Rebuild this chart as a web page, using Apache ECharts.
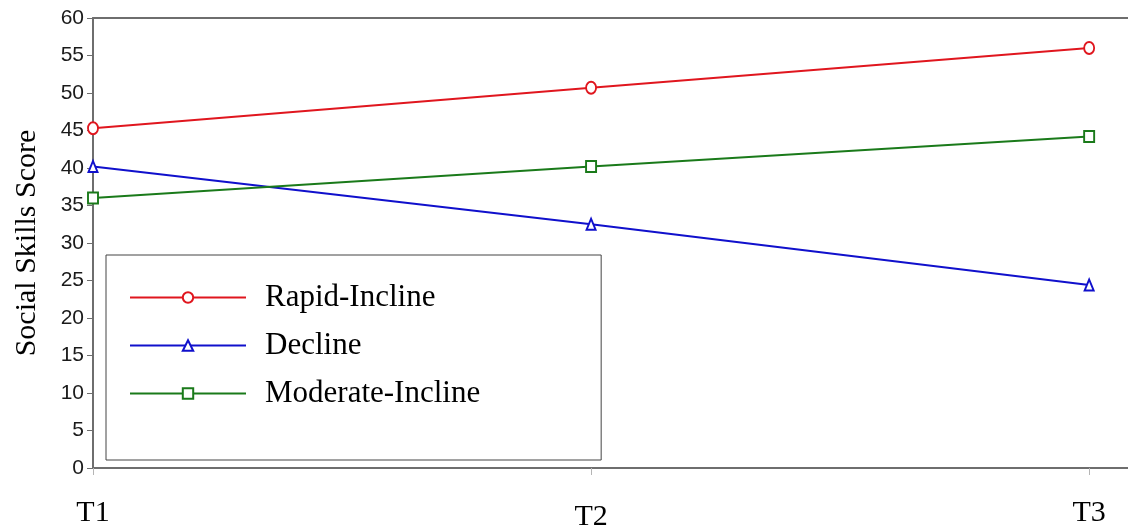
<!DOCTYPE html>
<html>
<head>
<meta charset="utf-8">
<script src="https://cdn.jsdelivr.net/npm/echarts@6/dist/echarts.min.js"></script>
<style>
html,body{margin:0;padding:0;background:#fff;}
#chart{width:1128px;height:530px;}
</style>
</head>
<body>
<div id="chart"></div>
<script>
// Data
var categories = ['T1', 'T2', 'T3'];
var rapidIncline = [45.3, 50.7, 56.0];
var decline = [40.2, 32.5, 24.4];
var moderateIncline = [36.0, 40.2, 44.2];
var yTicks = [0, 5, 10, 15, 20, 25, 30, 35, 40, 45, 50, 55, 60];
var seriesNames = ['Rapid-Incline', 'Decline', 'Moderate-Incline'];
var yTitle = 'Social Skills Score';

var positions = categories.map(function (c, i) { return i + 1; });
function pairs(arr) { return arr.map(function (v, i) { return [positions[i], v]; }); }

var serif = "'Liberation Serif', 'Times New Roman', serif";
var sans = "'Liberation Sans', Arial, sans-serif";
var axisGray = '#6e6e6e';

var chart = echarts.init(document.getElementById('chart'), null, {renderer: 'canvas'});
chart.setOption({
  animation: false,
  backgroundColor: '#fff',
  grid: {left: 93, right: 0, top: 18, bottom: 62, containLabel: false, outerBoundsMode: 'none'},
  legend: {
    orient: 'vertical',
    left: 106,
    top: 255,
    padding: [27, 121, 51, 23],
    itemGap: 17,
    itemWidth: 116,
    itemHeight: 13,
    borderColor: '#444',
    borderWidth: 1,
    borderRadius: 0,
    textStyle: {fontFamily: serif, fontSize: 31, color: '#000', padding: [0, 0, 0, 14]},
    data: seriesNames
  },
  xAxis: [{
    type: 'value',
    min: 1,
    max: 3.078,
    interval: 1,
    position: 'bottom',
    axisLine: {show: true, lineStyle: {color: axisGray, width: 2}},
    axisTick: {show: true, customValues: positions, length: 7, lineStyle: {color: '#b5b5b5', width: 1}},
    splitLine: {show: false},
    axisLabel: {
      customValues: positions,
      margin: 30,
      formatter: function (v) {
        var i = Math.round(v) - 1;
        return i === 1 ? '{low|' + categories[i] + '}' : '{n|' + categories[i] + '}';
      },
      rich: {
        n: {fontFamily: serif, fontSize: 30, color: '#000'},
        low: {fontFamily: serif, fontSize: 30, color: '#000', padding: [4, 0, 0, 0]}
      }
    }
  }, {
    type: 'value',
    min: 1,
    max: 3.078,
    position: 'top',
    axisLine: {show: true, lineStyle: {color: axisGray, width: 2}},
    axisTick: {show: false},
    axisLabel: {show: false},
    splitLine: {show: false}
  }],
  yAxis: {
    type: 'value',
    min: yTicks[0],
    max: yTicks[yTicks.length - 1],
    interval: 5,
    name: yTitle,
    nameLocation: 'middle',
    nameGap: 51,
    nameTextStyle: {fontFamily: serif, fontSize: 30, color: '#000'},
    axisLine: {show: true, lineStyle: {color: axisGray, width: 2}},
    axisTick: {show: true, length: 6, lineStyle: {color: axisGray, width: 1}},
    splitLine: {show: false},
    axisLabel: {fontFamily: sans, fontSize: 21, color: '#1a1a1a', margin: 9}
  },
  series: [{
    name: seriesNames[0],
    type: 'line',
    data: pairs(rapidIncline),
    symbol: 'emptyCircle',
    symbolSize: [10, 12],
    clip: false,
    itemStyle: {color: '#e0161e', borderWidth: 1.6},
    lineStyle: {color: '#e0161e', width: 2.2}
  }, {
    name: seriesNames[1],
    type: 'line',
    data: pairs(decline),
    symbol: 'emptyTriangle',
    symbolSize: [9, 11],
    clip: false,
    itemStyle: {color: '#1010cc', borderWidth: 1.6},
    lineStyle: {color: '#1010cc', width: 2.2}
  }, {
    name: seriesNames[2],
    type: 'line',
    data: pairs(moderateIncline),
    symbol: 'emptyRect',
    symbolSize: [10, 11],
    clip: false,
    itemStyle: {color: '#1a7a1a', borderWidth: 1.6},
    lineStyle: {color: '#1a7a1a', width: 2.2}
  }]
});
</script>
</body>
</html>
